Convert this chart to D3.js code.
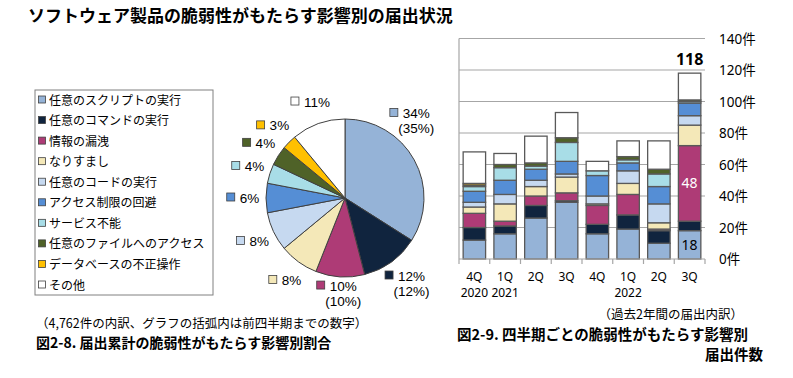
<!DOCTYPE html>
<html>
<head>
<meta charset="utf-8">
<script src="https://cdn.jsdelivr.net/npm/d3@7"></script>
<style>
  body { margin: 0; background: #fff; }
  svg { font-family: "Noto Sans CJK JP", "Noto Sans", sans-serif; }
  .num { font-family: "Noto Sans", "Noto Sans CJK JP", sans-serif; }
  .pct { font-family: "Liberation Sans", "DejaVu Sans", sans-serif; }
</style>
</head>
<body>
<svg width="793" height="378"></svg>
<script>
// categories (legend order = stack order, bottom to top)
const categories = [
  "任意のスクリプトの実行", "任意のコマンドの実行", "情報の漏洩", "なりすまし",
  "任意のコードの実行", "アクセス制限の回避", "サービス不能",
  "任意のファイルへのアクセス", "データベースの不正操作", "その他"
];
const colors = ["#95b3d7", "#10243e", "#ae3b76", "#f4e8b8", "#c6d9f0",
  "#558ed5", "#a8dde7", "#4f6228", "#ffc000", "#ffffff"];

// pie: share of 4,762 cumulative reports (%), previous-quarter figure in brackets
const piePct = [34, 12, 10, 8, 8, 6, 4, 4, 3, 11];
const piePrev = [35, 12, 10, null, null, null, null, null, null, null];

// bars: quarterly counts per category
const quarters = ["4Q", "1Q", "2Q", "3Q", "4Q", "1Q", "2Q", "3Q"];
const years = ["2020", "2021", "", "", "", "2022", "", ""];
const scriptExec = [12, 16, 26, 36, 16, 19, 10, 18];
const commandExec = [8, 5, 8, 1, 6, 9, 8, 6];
const infoLeak = [9, 3, 6, 5, 12, 13, 1, 48];
const spoofing = [4, 11, 6, 10, 1, 7, 4, 13];
const codeExec = [3, 6, 4, 2, 5, 8, 12, 6];
const accessBypass = [7, 9, 7, 8, 13, 5, 11, 8];
const dos = [3, 8, 2, 12, 3, 2, 8, 1];
const fileAccess = [1, 2, 2, 3, 0, 2, 3, 1];
const dbTamper = [1, 0, 0, 0, 0, 0, 0, 0];
const others = [20, 7, 17, 16, 6, 10, 18, 17];
const yTicks = [0, 20, 40, 60, 80, 100, 120, 140];

const seriesValues = [scriptExec, commandExec, infoLeak, spoofing, codeExec,
  accessBypass, dos, fileAccess, dbTamper, others];

const svg = d3.select("svg");

// title
svg.append("text")
  .attr("x", 28).attr("y", 22)
  .attr("font-size", 17).attr("font-weight", "bold")
  .text("ソフトウェア製品の脆弱性がもたらす影響別の届出状況");

// ---------- legend ----------
const legend = svg.append("g");
legend.append("rect")
  .attr("x", 35).attr("y", 90).attr("width", 178).attr("height", 205)
  .attr("fill", "none").attr("stroke", "#808080").attr("stroke-width", 1);
const legY = d3.scalePoint().domain(d3.range(categories.length)).range([100, 285]);
categories.forEach((c, i) => {
  legend.append("rect")
    .attr("x", 38.5).attr("y", legY(i) - 4).attr("width", 7).attr("height", 7)
    .attr("fill", colors[i]).attr("stroke", "#404040").attr("stroke-width", 0.8);
  legend.append("text")
    .attr("x", 49).attr("y", legY(i) + 4.5)
    .attr("font-size", 12)
    .text(c);
});

// ---------- pie ----------
const cx = 345, cy = 198, r = 79;
const pie = d3.pie().sort(null).value(d => d)(piePct);
const arc = d3.arc().innerRadius(0).outerRadius(r);
const gPie = svg.append("g").attr("transform", `translate(${cx},${cy})`);
gPie.selectAll("path")
  .data(pie)
  .join("path")
  .attr("d", arc)
  .attr("fill", (d, i) => colors[i])
  .attr("stroke", "#404040")
  .attr("stroke-width", 1);

// pie labels: square + percentage, centred around the slice middle
pie.forEach((d, i) => {
  let a = (d.startAngle + d.endAngle) / 2;
  if (i === 0) a = a - 0.35; // big slice label sits higher, as in the original
  const lr = i === 1 ? 106 : i === 2 ? 96 : 102;
  const lx = cx + lr * Math.sin(a), ly = cy - lr * Math.cos(a);
  const g = svg.append("g");
  g.append("rect")
    .attr("x", 0).attr("y", -5).attr("width", 8).attr("height", 8)
    .attr("fill", colors[i]).attr("stroke", "#404040").attr("stroke-width", 0.8);
  const t = g.append("text").attr("class", "pct")
    .attr("x", 13).attr("y", 4.5).attr("font-size", 13.5)
    .text(piePct[i] + "%");
  if (piePrev[i] != null) {
    const w = t.node().getComputedTextLength();
    g.append("text").attr("class", "pct")
      .attr("x", 13 + w / 2).attr("y", 20).attr("font-size", 13.5)
      .attr("text-anchor", "middle")
      .text("(" + piePrev[i] + "%)");
  }
  const bb = g.node().getBBox();
  g.attr("transform",
    `translate(${lx - bb.x - bb.width / 2},${ly - bb.y - bb.height / 2})`);
});

svg.append("text")
  .attr("x", 36).attr("y", 328).attr("font-size", 12.5)
  .text("（4,762件の内訳、グラフの括弧内は前四半期までの数字）");
svg.append("text")
  .attr("x", 36).attr("y", 348).attr("font-size", 14).attr("font-weight", "bold")
  .text("図2-8. 届出累計の脆弱性がもたらす影響別割合");

// ---------- stacked bars ----------
const x = d3.scaleBand().domain(d3.range(quarters.length))
  .range([459, 705]).paddingInner(0.27).paddingOuter(0.135);
const y = d3.scaleLinear().domain([0, 140]).range([259, 38.5]);

const gridG = svg.append("g");
gridG.selectAll("line")
  .data(yTicks.slice(1))
  .join("line")
  .attr("x1", 459).attr("x2", 705)
  .attr("y1", d => y(d)).attr("y2", d => y(d))
  .attr("stroke", "#a6a6a6").attr("stroke-width", 1.2);
gridG.append("line")
  .attr("x1", 459).attr("x2", 459).attr("y1", y(140)).attr("y2", y(0))
  .attr("stroke", "#a6a6a6").attr("stroke-width", 1.2);

svg.selectAll(".ytick")
  .data(yTicks)
  .join("text")
  .attr("class", "ytick num")
  .attr("x", 719).attr("y", d => y(d) + 5)
  .attr("font-size", 13.5)
  .text(d => d + "件");

const rows = quarters.map((q, j) => {
  const o = {};
  seriesValues.forEach((s, k) => { o[k] = s[j]; });
  return o;
});
const stacked = d3.stack().keys(d3.range(categories.length))(rows);

const barG = svg.append("g");
stacked.forEach((layer, k) => {
  barG.append("g")
    .selectAll("rect")
    .data(layer.map((d, j) => ({ d, j })))
    .join("rect")
    .attr("x", p => x(p.j))
    .attr("width", x.bandwidth())
    .attr("y", p => y(p.d[1]))
    .attr("height", p => y(p.d[0]) - y(p.d[1]))
    .attr("fill", colors[k])
    .attr("stroke", "#595959")
    .attr("stroke-width", 1.3);
});

// x axis line with band ticks
const axisG = svg.append("g");
axisG.append("line")
  .attr("x1", 459).attr("x2", 705).attr("y1", y(0)).attr("y2", y(0))
  .attr("stroke", "#a6a6a6").attr("stroke-width", 1.2);
axisG.selectAll(".xt")
  .data(d3.range(quarters.length + 1))
  .join("line")
  .attr("x1", i => 459 + i * x.step()).attr("x2", i => 459 + i * x.step())
  .attr("y1", y(0)).attr("y2", y(0) + 5)
  .attr("stroke", "#a6a6a6").attr("stroke-width", 1.2);

svg.selectAll(".xq")
  .data(quarters)
  .join("text")
  .attr("class", "num")
  .attr("x", (d, i) => x(i) + x.bandwidth() / 2)
  .attr("y", 281).attr("text-anchor", "middle").attr("font-size", 12)
  .text(d => d);
svg.selectAll(".xy")
  .data(years)
  .join("text")
  .attr("class", "num")
  .attr("x", (d, i) => x(i) + x.bandwidth() / 2)
  .attr("y", 297).attr("text-anchor", "middle").attr("font-size", 12)
  .text(d => d);

// value labels on last bar
const last = quarters.length - 1;
const total = d3.sum(seriesValues, s => s[last]);
svg.append("text").attr("class", "num")
  .attr("x", x(last) + x.bandwidth() / 2).attr("y", y(total) - 8)
  .attr("text-anchor", "middle").attr("font-size", 16).attr("font-weight", "bold")
  .text(total);
svg.append("text").attr("class", "num")
  .attr("x", x(last) + x.bandwidth() / 2)
  .attr("y", y((stacked[2][last][0] + stacked[2][last][1]) / 2) + 5)
  .attr("text-anchor", "middle").attr("font-size", 14).attr("fill", "#fff")
  .text(infoLeak[last]);
svg.append("text").attr("class", "num")
  .attr("x", x(last) + x.bandwidth() / 2)
  .attr("y", y(scriptExec[last] / 2) + 5)
  .attr("text-anchor", "middle").attr("font-size", 14)
  .text(scriptExec[last]);

svg.append("text")
  .attr("x", 743).attr("y", 319).attr("text-anchor", "end").attr("font-size", 12.5)
  .text("（過去2年間の届出内訳）");
svg.append("text")
  .attr("x", 457).attr("y", 340).attr("font-size", 14.5).attr("font-weight", "bold")
  .text("図2-9. 四半期ごとの脆弱性がもたらす影響別");
svg.append("text")
  .attr("x", 763).attr("y", 360).attr("text-anchor", "end")
  .attr("font-size", 14.5).attr("font-weight", "bold")
  .text("届出件数");
</script>
</body>
</html>
